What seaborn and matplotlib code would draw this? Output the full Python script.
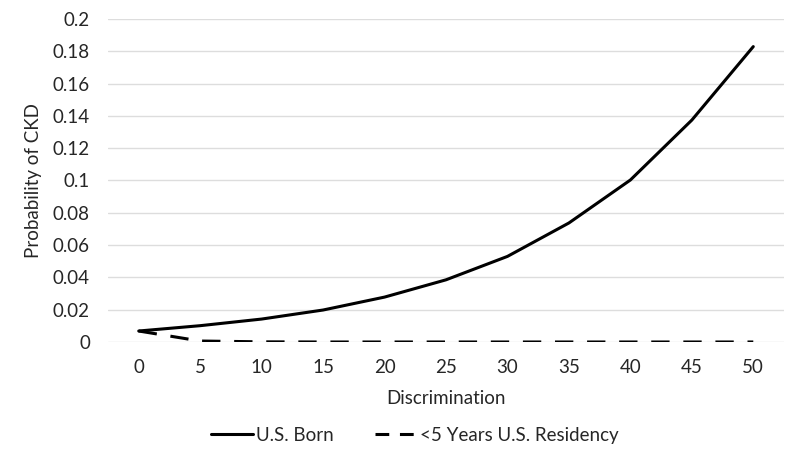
import pandas as pd
import matplotlib
matplotlib.use("Agg")
import matplotlib.pyplot as plt
import seaborn as sns

# values
discrimination = [0, 5, 10, 15, 20, 25, 30, 35, 40, 45, 50]
us_born = [0.0068, 0.0101, 0.0142, 0.0198, 0.0278, 0.0385, 0.0530, 0.0737, 0.1003, 0.1374, 0.1829]
recent_immigrant = [0.0068, 0.0006, 0.0001, 0.0, 0.0, 0.0, 0.0, 0.0, 0.0, 0.0, 0.0]
series_names = ["U.S. Born", "<5 Years U.S. Residency"]
y_ticks = [0, 0.02, 0.04, 0.06, 0.08, 0.1, 0.12, 0.14, 0.16, 0.18, 0.2]
y_tick_labels = ["0", "0.02", "0.04", "0.06", "0.08", "0.1", "0.12", "0.14", "0.16", "0.18", "0.2"]

df = pd.DataFrame({
    "Discrimination": discrimination * 2,
    "Probability": us_born + recent_immigrant,
    "Group": [series_names[0]] * len(discrimination) + [series_names[1]] * len(discrimination),
})

sns.set_theme(style="white")
plt.rcParams["font.family"] = ["Lato", "DejaVu Sans"]

FS = 13.5
TXT = "#262626"
DASH = (6, 4.5)

fig = plt.figure(figsize=(8, 4.58), dpi=100)
ax = fig.add_axes([0.135, 0.2533, 0.845, 0.7052])

sns.lineplot(data=df, x="Discrimination", y="Probability", style="Group",
             style_order=series_names, dashes={series_names[0]: "", series_names[1]: DASH},
             color="black", linewidth=2.2, ax=ax, legend=False)

ax.set_xlim(-2.5, 52.5)
ax.set_ylim(0, 0.2)
ax.set_xticks(discrimination)
ax.set_xticklabels([str(d) for d in discrimination], fontsize=FS, color=TXT)
ax.set_yticks(y_ticks)
ax.set_yticklabels(y_tick_labels, fontsize=FS, color=TXT)
ax.tick_params(axis="x", length=0, pad=12)
ax.tick_params(axis="y", length=0, pad=13)
ax.grid(axis="y", color="#dddddd", linewidth=1)
ax.set_axisbelow(True)
for s in ax.spines.values():
    s.set_visible(False)

ax.set_xlabel("Discrimination", fontsize=FS, color=TXT, labelpad=10)
ax.set_ylabel("Probability of CKD", fontsize=FS, color=TXT, labelpad=8)

handles = [
    plt.Line2D([], [], color="black", linewidth=2.2),
    plt.Line2D([], [], color="black", linewidth=2.2, dashes=(4.5, 3.5)),
]
fig.legend(handles, series_names, loc="center", bbox_to_anchor=(0.519, 0.05), ncol=2,
           frameon=False, fontsize=FS, handlelength=2.2, columnspacing=2.2, handletextpad=0.2)

fig.savefig("out.png", dpi=100, facecolor="white")
